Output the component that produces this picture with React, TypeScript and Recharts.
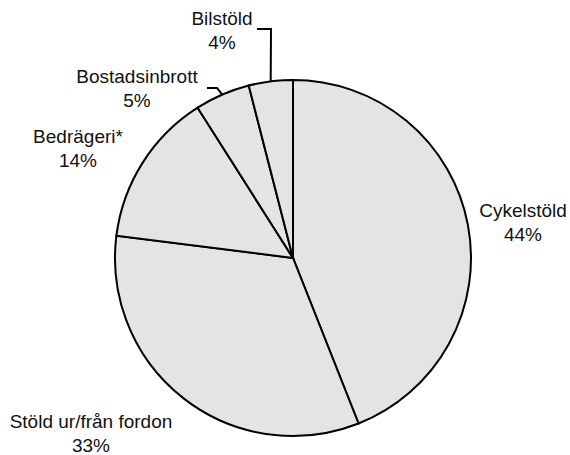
import { Pie, PieChart } from "recharts";

const categories = ["Cykelstöld", "Stöld ur/från fordon", "Bedrägeri*", "Bostadsinbrott", "Bilstöld"];
const shares = [44, 33, 14, 5, 4];

const data = categories.map((name, i) => ({ name, value: shares[i] }));

// label placement (text centre x, baseline of first line) and optional leader line
type Layout = { x: number; y: number; leader?: { elbow: [number, number]; end: [number, number] } };
const layout: Record<string, Layout> = {
  "Cykelstöld": { x: 523, y: 217 },
  "Stöld ur/från fordon": { x: 91, y: 428 },
  "Bedrägeri*": { x: 78, y: 143 },
  "Bostadsinbrott": { x: 137, y: 83, leader: { elbow: [217, 88], end: [207, 88] } },
  "Bilstöld": { x: 222, y: 25, leader: { elbow: [271, 29], end: [257, 29] } },
};

const RADIAN = Math.PI / 180;
const font = "Liberation Sans, Arial, sans-serif";

function renderLabel(props: any) {
  const { cx, cy, midAngle, outerRadius, name, value } = props;
  const l = layout[name];
  if (!l) return null;
  const sx = cx + outerRadius * Math.cos(-midAngle * RADIAN);
  const sy = cy + outerRadius * Math.sin(-midAngle * RADIAN);
  return (
    <g>
      {l.leader && (
        <polyline
          points={`${sx},${sy} ${l.leader.elbow[0]},${l.leader.elbow[1]} ${l.leader.end[0]},${l.leader.end[1]}`}
          fill="none"
          stroke="#000"
          strokeWidth={2}
        />
      )}
      <text x={l.x} y={l.y} textAnchor="middle" fontSize={19} fill="#111" fontFamily={font}>
        {name}
      </text>
      <text x={l.x} y={l.y + 24} textAnchor="middle" fontSize={19} fill="#111" fontFamily={font}>
        {`${value}%`}
      </text>
    </g>
  );
}

export default function App() {
  return (
    <div style={{ position: "absolute", left: 0, top: 0, width: 570, height: 455, background: "#fff" }}>
      <PieChart width={570} height={455} margin={{ top: 0, right: 0, bottom: 0, left: 0 }}>
        <Pie
          data={data}
          dataKey="value"
          nameKey="name"
          cx={293}
          cy={258}
          outerRadius={178}
          startAngle={90}
          endAngle={-270}
          fill="#e3e4e4"
          stroke="#000"
          strokeWidth={2}
          label={renderLabel}
          labelLine={false}
          isAnimationActive={false}
        />
      </PieChart>
    </div>
  );
}
